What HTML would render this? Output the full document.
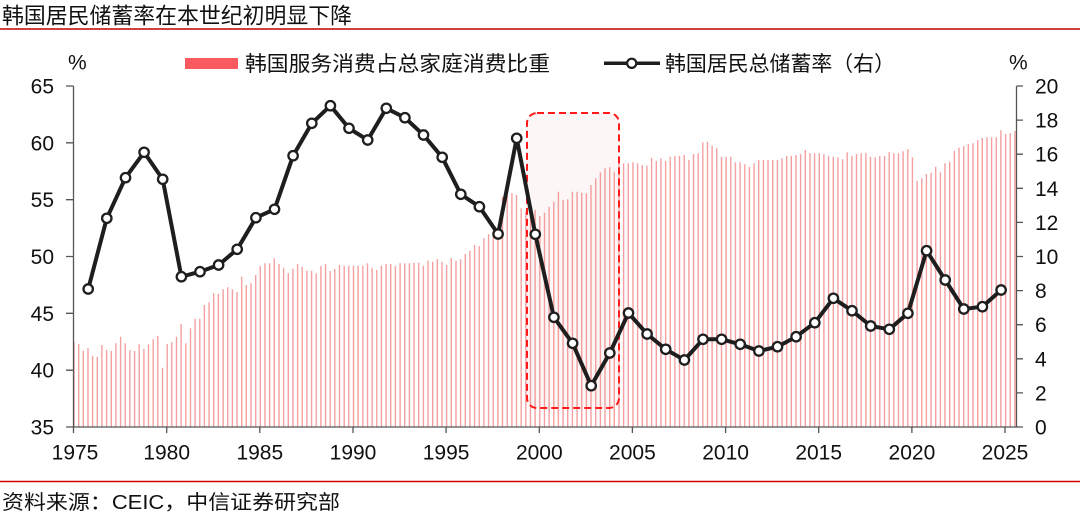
<!DOCTYPE html>
<html><head><meta charset="utf-8"><style>
html,body{margin:0;padding:0;background:#fff;}
svg{display:block;}
text{font-family:"Liberation Sans","Noto Sans CJK SC",sans-serif;fill:#111;}
</style></head><body>
<svg width="1080" height="517" viewBox="0 0 1080 517" xmlns="http://www.w3.org/2000/svg">
<!-- title -->
<text x="2" y="23.5" font-size="22" textLength="350" lengthAdjust="spacingAndGlyphs">韩国居民储蓄率在本世纪初明显下降</text>
<line x1="0" y1="29" x2="1080" y2="29" stroke="#c00000" stroke-width="1.6"/>

<!-- highlight rect fill -->
<rect x="527" y="113" width="92" height="295" rx="10" ry="10" fill="#fdf6f6"/>

<!-- bars -->
<path fill="none" stroke="#ef6f6f" stroke-opacity="0.66" stroke-width="1.4" d="
M74.0 341.7V427M78.7 344V427M83.3 350.7V427M88.0 348.3V427M92.6 355.7V427M97.3 356.7V427M101.9 345V427M106.6 350V427M111.3 351V427M115.9 343.3V427
M120.6 336.7V427M125.2 343.3V427M129.9 350V427M134.6 351V427M139.2 344.3V427M143.9 349V427M148.5 344.3V427M153.2 339.3V427M157.8 336V427M162.5 367.7V427
M167.2 344V427M171.8 342.3V427M176.5 336.7V427M181.1 324V427M185.8 343.3V427M190.5 328.3V427M195.1 318.7V427M199.8 318.7V427M204.4 305V427M209.1 302.3V427
M213.7 293.3V427M218.4 294V427M223.1 289.3V427M227.7 287.3V427M232.4 289.3V427M237.0 292V427M241.7 276.7V427M246.3 285V427M251.0 283.3V427M255.7 275V427
M260.3 266V427M265.0 263.3V427M269.6 263.3V427M274.3 258.3V427M279.0 264V427M283.6 267.7V427M288.3 273.3V427M292.9 268.7V427M297.6 264V427M302.2 266.7V427
M306.9 270.7V427M311.6 270.7V427M316.2 273.3V427M320.9 266V427M325.5 264V427M330.2 271V427M334.8 269V427M339.5 265V427M344.2 265.7V427M348.8 265.7V427
M353.5 265.7V427M358.1 265.7V427M362.8 265.7V427M367.5 263.3V427M372.1 267.7V427M376.8 270V427M381.4 265.7V427M386.1 264V427M390.7 264V427M395.4 266V427
M400.1 263.3V427M404.7 263.3V427M409.4 263.3V427M414.0 262.7V427M418.7 262.7V427M423.4 265.7V427M428.0 260.7V427M432.7 261.7V427M437.3 259.3V427M442.0 261.7V427
M446.6 265V427M451.3 258V427M456.0 260.7V427M460.6 259.3V427M465.3 254V427M469.9 250.7V427M474.6 245V427M479.2 246V427M483.9 238.3V427M488.6 234.3V427
M493.2 231.7V427M497.9 229V427M502.5 196.7V427M507.2 192.7V427M511.9 193.3V427M516.5 195V427M521.2 208.3V427M525.8 211.7V427M530.5 211.7V427M535.1 210V427
M539.8 216V427M544.5 212.7V427M549.1 206.7V427M553.8 201.7V427M558.4 191.7V427M563.1 200V427M567.7 199.3V427M572.4 191.7V427M577.1 191.7V427M581.7 192.7V427
M586.4 193.3V427M591.0 185V427M595.7 178.3V427M600.4 172.3V427M605.0 168.3V427M609.7 167.3V427M614.3 171.7V427M619.0 163.3V427M623.6 163.3V427M628.3 163.3V427
M633.0 162.3V427M637.6 163.3V427M642.3 165V427M646.9 165.7V427M651.6 157.7V427M656.3 161V427M660.9 158.3V427M665.6 161V427M670.2 156.7V427M674.9 156V427
M679.5 155.7V427M684.2 155V427M688.9 160V427M693.5 154V427M698.2 153.3V427M702.8 142.3V427M707.5 141.7V427M712.1 145.7V427M716.8 148.3V427M721.5 156.7V427
M726.1 156.7V427M730.8 156.7V427M735.4 162.3V427M740.1 162.3V427M744.8 164.3V427M749.4 166.7V427M754.1 163.3V427M758.7 160V427M763.4 160V427M768.0 160V427
M772.7 160V427M777.4 160V427M782.0 158.3V427M786.7 156V427M791.3 156V427M796.0 155V427M800.6 154V427M805.3 150V427M810.0 153.3V427M814.6 153.3V427
M819.3 153.3V427M823.9 154.3V427M828.6 156V427M833.3 156.7V427M837.9 157.3V427M842.6 159.3V427M847.2 152.3V427M851.9 156V427M856.5 154V427M861.2 153.3V427
M865.9 152.7V427M870.5 156.7V427M875.2 157.3V427M879.8 156V427M884.5 156V427M889.2 152V427M893.8 153.3V427M898.5 153.3V427M903.1 151.3V427M907.8 149.3V427
M912.4 157.3V427M917.1 180.7V427M921.8 178V427M926.4 174V427M931.1 172.7V427M935.7 166.7V427M940.4 172.3V427M945.0 163.3V427M949.7 161.7V427M954.4 151V427
M959.0 147.7V427M963.7 146V427M968.3 144V427M973.0 143.3V427M977.7 140V427M982.3 137.7V427M987.0 137.3V427M991.6 137.3V427M996.3 137.3V427M1000.9 130.3V427
M1005.6 134V427M1010.3 133V427M1014.9 131V427"/>

<!-- dashed highlight border -->
<rect x="527" y="113" width="92" height="295" rx="10" ry="10" fill="none" stroke="#ff1a1a" stroke-width="2" stroke-dasharray="7 4"/>

<!-- axes -->
<g stroke="#555" stroke-width="1.3" fill="none">
<line x1="73.5" y1="86" x2="73.5" y2="427"/>
<line x1="1016.5" y1="86" x2="1016.5" y2="427"/>
<line x1="73.5" y1="427" x2="1023" y2="427"/>
<path d="M66 86H73.5M66 142.8H73.5M66 199.7H73.5M66 256.5H73.5M66 313.3H73.5M66 370.2H73.5M66 427H73.5"/>
<path d="M1016.5 86H1023M1016.5 120.1H1023M1016.5 154.2H1023M1016.5 188.3H1023M1016.5 222.4H1023M1016.5 256.5H1023M1016.5 290.6H1023M1016.5 324.7H1023M1016.5 358.8H1023M1016.5 392.9H1023"/>
<path d="M73.5 427V433M166.7 427V433M259.8 427V433M353 427V433M446.1 427V433M539.3 427V433M632.4 427V433M725.6 427V433M818.7 427V433M911.9 427V433M1005 427V433"/>
</g>

<!-- left labels -->
<g font-size="21" text-anchor="end">
<text x="54" y="93.5">65</text>
<text x="54" y="150.3">60</text>
<text x="54" y="207.2">55</text>
<text x="54" y="264">50</text>
<text x="54" y="320.8">45</text>
<text x="54" y="377.7">40</text>
<text x="54" y="434.5">35</text>
</g>
<!-- right labels -->
<g font-size="21">
<text x="1035" y="93.5">20</text>
<text x="1035" y="127.6">18</text>
<text x="1035" y="161.7">16</text>
<text x="1035" y="195.8">14</text>
<text x="1035" y="229.9">12</text>
<text x="1035" y="264">10</text>
<text x="1035" y="298.1">8</text>
<text x="1035" y="332.2">6</text>
<text x="1035" y="366.3">4</text>
<text x="1035" y="400.4">2</text>
<text x="1035" y="434.5">0</text>
</g>
<!-- x labels -->
<g font-size="21" text-anchor="middle">
<text x="75" y="459.5">1975</text>
<text x="166.7" y="459.5">1980</text>
<text x="259.8" y="459.5">1985</text>
<text x="353" y="459.5">1990</text>
<text x="446.1" y="459.5">1995</text>
<text x="539.3" y="459.5">2000</text>
<text x="632.4" y="459.5">2005</text>
<text x="725.6" y="459.5">2010</text>
<text x="818.7" y="459.5">2015</text>
<text x="911.9" y="459.5">2020</text>
<text x="1005" y="459.5">2025</text>
</g>
<text x="68" y="69.5" font-size="21">%</text>
<text x="1009" y="69.5" font-size="21">%</text>

<!-- legend -->
<rect x="185" y="58" width="53" height="11" fill="#f95a60"/>
<text x="245" y="71" font-size="21" textLength="305" lengthAdjust="spacingAndGlyphs">韩国服务消费占总家庭消费比重</text>
<line x1="604" y1="63.3" x2="660" y2="63.3" stroke="#1e1e1e" stroke-width="3.5"/>
<circle cx="631.7" cy="63.3" r="4.6" fill="#fff" stroke="#1e1e1e" stroke-width="2.2"/>
<text x="665" y="71" font-size="21" textLength="230" lengthAdjust="spacingAndGlyphs">韩国居民总储蓄率（右）</text>

<!-- savings line -->
<polyline fill="none" stroke="#1e1e1e" stroke-width="4" stroke-linejoin="round" points="
88.2,289 106.8,218.3 125.5,177.7 144.1,152.3 162.7,179.3 181.4,276.7 200.0,271.7 218.6,265 237.2,249.3 255.9,217.7
274.5,209.3 293.1,155.7 311.8,123.3 330.4,105.7 349.0,128.3 367.7,140 386.3,108.3 404.9,117.7 423.5,135 442.2,157.3
460.8,194.3 479.4,206.7 498.1,234 516.7,138.3 535.3,234.3 553.9,317.3 572.6,343.3 591.2,385.7 609.8,353 628.5,313
647.1,334 665.7,349.3 684.4,360 703.0,339.3 721.6,339.3 740.2,344.3 758.9,351 777.5,346.7 796.1,336.7 814.8,322.7
833.4,298.3 852.0,310.7 870.7,326 889.3,329.3 907.9,313.3 926.6,250.7 945.2,280 963.8,309 982.4,306.7 1001.1,290"/>
<g fill="#fff" stroke="#1e1e1e" stroke-width="2.3">
<circle cx="88.2" cy="289" r="4.7"/><circle cx="106.8" cy="218.3" r="4.7"/><circle cx="125.5" cy="177.7" r="4.7"/><circle cx="144.1" cy="152.3" r="4.7"/><circle cx="162.7" cy="179.3" r="4.7"/>
<circle cx="181.4" cy="276.7" r="4.7"/><circle cx="200.0" cy="271.7" r="4.7"/><circle cx="218.6" cy="265" r="4.7"/><circle cx="237.2" cy="249.3" r="4.7"/><circle cx="255.9" cy="217.7" r="4.7"/>
<circle cx="274.5" cy="209.3" r="4.7"/><circle cx="293.1" cy="155.7" r="4.7"/><circle cx="311.8" cy="123.3" r="4.7"/><circle cx="330.4" cy="105.7" r="4.7"/><circle cx="349.0" cy="128.3" r="4.7"/>
<circle cx="367.7" cy="140" r="4.7"/><circle cx="386.3" cy="108.3" r="4.7"/><circle cx="404.9" cy="117.7" r="4.7"/><circle cx="423.5" cy="135" r="4.7"/><circle cx="442.2" cy="157.3" r="4.7"/>
<circle cx="460.8" cy="194.3" r="4.7"/><circle cx="479.4" cy="206.7" r="4.7"/><circle cx="498.1" cy="234" r="4.7"/><circle cx="516.7" cy="138.3" r="4.7"/><circle cx="535.3" cy="234.3" r="4.7"/>
<circle cx="553.9" cy="317.3" r="4.7"/><circle cx="572.6" cy="343.3" r="4.7"/><circle cx="591.2" cy="385.7" r="4.7"/><circle cx="609.8" cy="353" r="4.7"/><circle cx="628.5" cy="313" r="4.7"/>
<circle cx="647.1" cy="334" r="4.7"/><circle cx="665.7" cy="349.3" r="4.7"/><circle cx="684.4" cy="360" r="4.7"/><circle cx="703.0" cy="339.3" r="4.7"/><circle cx="721.6" cy="339.3" r="4.7"/>
<circle cx="740.2" cy="344.3" r="4.7"/><circle cx="758.9" cy="351" r="4.7"/><circle cx="777.5" cy="346.7" r="4.7"/><circle cx="796.1" cy="336.7" r="4.7"/><circle cx="814.8" cy="322.7" r="4.7"/>
<circle cx="833.4" cy="298.3" r="4.7"/><circle cx="852.0" cy="310.7" r="4.7"/><circle cx="870.7" cy="326" r="4.7"/><circle cx="889.3" cy="329.3" r="4.7"/><circle cx="907.9" cy="313.3" r="4.7"/>
<circle cx="926.6" cy="250.7" r="4.7"/><circle cx="945.2" cy="280" r="4.7"/><circle cx="963.8" cy="309" r="4.7"/><circle cx="982.4" cy="306.7" r="4.7"/><circle cx="1001.1" cy="290" r="4.7"/>
</g>

<!-- footer -->
<line x1="0" y1="481.5" x2="1080" y2="481.5" stroke="#d00000" stroke-width="1.6"/>
<text x="2" y="509" font-size="20" textLength="338" lengthAdjust="spacingAndGlyphs">资料来源：CEIC，中信证券研究部</text>
</svg>
</body></html>
